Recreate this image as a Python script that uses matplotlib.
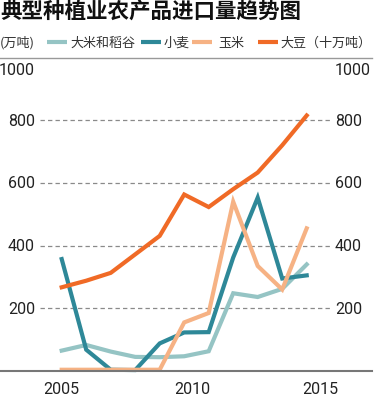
import matplotlib
matplotlib.use('Agg')
from matplotlib import pyplot as plt
from matplotlib.lines import Line2D

plt.rcParams['font.family'] = ['Noto Sans CJK SC', 'DejaVu Sans']

# data
years = [2005, 2006, 2007, 2008, 2009, 2010, 2011, 2012, 2013, 2014, 2015]
rice = [65, 83, 62, 45, 44, 47, 63, 248, 236, 262, 340]      # 大米和稻谷 (万吨)
wheat = [357, 68, 4, 3, 88, 123, 124, 362, 553, 295, 305]    # 小麦 (万吨)
corn = [4, 4, 4, 4, 4, 155, 185, 540, 335, 260, 455]         # 玉米 (万吨)
soy = [267, 288, 313, 372, 431, 563, 523, 580, 633, 720, 815]  # 大豆 (十万吨)
names = ['大米和稻谷', '小麦', '玉米', '大豆（十万吨）']
colors = ['#95c4c4', '#2e8898', '#f6b284', '#f06a26']
yticks = [200, 400, 600, 800, 1000]
xlabels = ['2005', '2010', '2015']

W, H = 380, 414
fig = plt.figure(figsize=(W / 100, H / 100), dpi=100)
ax = fig.add_axes([0, 1 - 372 / H, 372 / W, (372 - 58.5) / H])
ax.set_xlim(2005 - 61.7 / 24.5, 2005 + (372 - 61.7) / 24.5)
ax.set_ylim(0, 1000)

# dashed grid lines
for v in yticks[:-1]:
    ax.axhline(v, xmin=40 / 372, xmax=330 / 372, color='#8a8a8a', lw=0.9,
               dashes=(3.5, 2.5), zorder=1)

# series
for vals, c in zip([rice, wheat, corn, soy], colors):
    ax.plot(years, vals, color=c, lw=3, solid_joinstyle='miter', zorder=3, clip_on=False)

for s in ['left', 'right']:
    ax.spines[s].set_visible(False)
ax.spines['bottom'].set_color('#777777')
ax.spines['bottom'].set_linewidth(1.5)
ax.spines['bottom'].set_zorder(4)
ax.spines['top'].set_color('#999999')
ax.spines['top'].set_linewidth(1)
ax.set_yticks([])

# y labels on both sides
num_font = dict(family=['Roboto', 'DejaVu Sans'], fontsize=11.5, color='#222222')
for v in yticks:
    yy = v if v < 1000 else 962
    ax.text(35 / 372, yy, str(v), transform=ax.get_yaxis_transform(), ha='right', va='center', **num_font)
    ax.text(335 / 372, yy, str(v), transform=ax.get_yaxis_transform(), ha='left', va='center', **num_font)

# x labels (placed as in the picture)
ax.set_xticks([2005, 2010.32, 2015.54])
ax.set_xticklabels(xlabels, **num_font)
ax.tick_params(axis='x', length=0, pad=7)

# title
fig.text(0.0, 1 - 1 / H, '典型种植业农产品进口量趋势图', fontsize=15.5, fontweight='heavy',
         color='#111111', ha='left', va='top')

# legend drawn by hand
ly = 1 - 43 / H
leg_font = dict(fontsize=9.4, color='#333333', va='center', ha='left')
fig.text(0, ly, '(万吨)', **leg_font)
swatches = [(47, 70), (141, 164), (192, 218), (258, 280)]
for (sx, tx), c, n in zip(swatches, colors, names):
    fig.add_artist(Line2D([sx / W, (sx + 20) / W], [ly, ly], color=c, lw=3,
                          transform=fig.transFigure, solid_capstyle='butt'))
    fig.text(tx / W, ly, n, **leg_font)

plt.savefig('out.png', dpi=100)
